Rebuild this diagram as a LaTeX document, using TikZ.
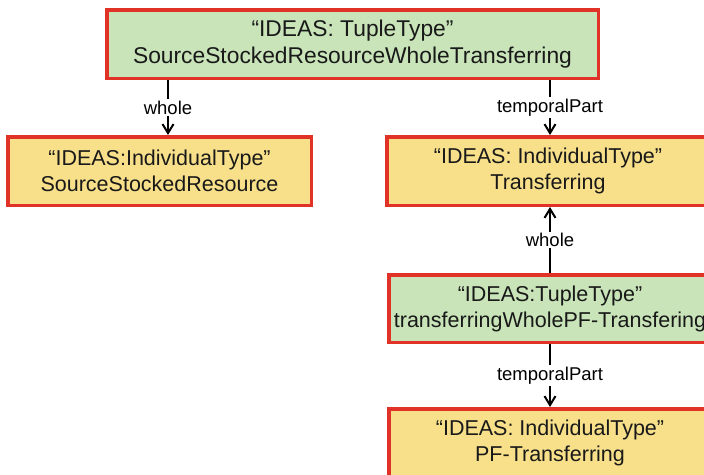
\documentclass[tikz,border=0pt]{standalone}
\usepackage{fontspec}
\setmainfont{Liberation Sans}
\usetikzlibrary{arrows.meta}
\definecolor{boxred}{RGB}{224,50,38}
\definecolor{boxyel}{RGB}{248,224,138}
\definecolor{boxgrn}{RGB}{200,228,184}
\tikzset{
  box/.style={draw=boxred, line width=3.5pt, inner sep=0pt, align=center,
    font=\fontsize{21.5pt}{26pt}\selectfont, text=black!90},
  ybox/.style={box, fill=boxyel},
  gbox/.style={box, fill=boxgrn},
  conn/.style={line width=2.4pt, -{Straight Barb[length=9pt,width=11pt,line width=2pt]}},
  lbl/.style={fill=white, inner sep=1.5pt, font=\fontsize{18.5pt}{20pt}\selectfont}
}
\begin{document}
\begin{tikzpicture}[x=1pt,y=-1pt]
\useasboundingbox (0,0) rectangle (704,474);
\clip (0,0) rectangle (704,474);
\node[gbox, minimum width=491.5pt, minimum height=68.5pt,
  font=\fontsize{22.8pt}{27pt}\selectfont] (top) at (352.5,44)
  {“IDEAS: TupleType”\\SourceStockedResourceWholeTransferring};
\node[ybox, minimum width=303.5pt, minimum height=68.5pt] (left) at (159.5,171)
  {“IDEAS:IndividualType”\\SourceStockedResource};
\node[ybox, minimum width=322.5pt, minimum height=68.5pt] (trans) at (548,171)
  {“IDEAS: IndividualType”\\Transferring};
\node[gbox, minimum width=322.5pt, minimum height=67.5pt] (mid) at (550,308.5)
  {“IDEAS:TupleType”\\transferringWholePF-Transfering};
\node[ybox, minimum width=322.5pt, minimum height=68.5pt] (bot) at (550,443)
  {“IDEAS: IndividualType”\\PF-Transferring};
\coordinate (la) at ([xshift=8.5pt]left.north);
\coordinate (ra) at (mid.north |- trans.north);
\draw[conn] (la |- top.south) -- node[lbl]{whole} (la);
\draw[conn] (ra |- top.south) -- node[lbl]{temporalPart} (ra);
\draw[conn] (mid.north) -- node[lbl]{whole} (mid.north |- trans.south);
\draw[conn] (mid.south) -- node[lbl]{temporalPart} (bot.north);
\end{tikzpicture}
\end{document}
